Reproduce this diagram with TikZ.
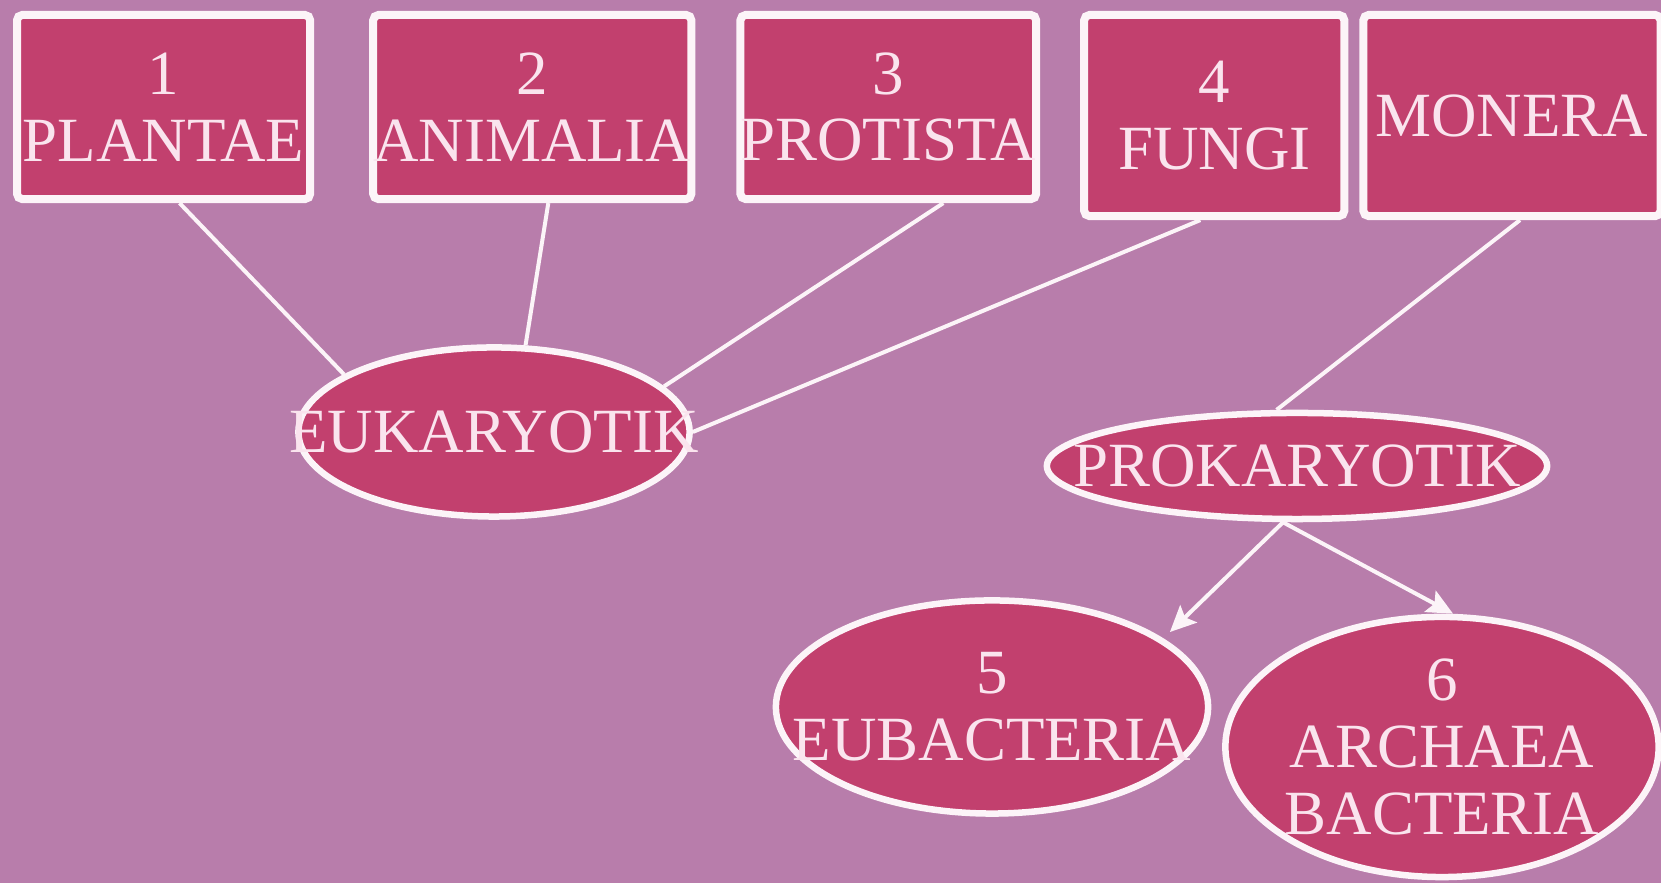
\documentclass[tikz,border=0pt]{standalone}
\usepackage{fontspec}
\setmainfont{Liberation Serif}
\usepackage{tikz}
\usetikzlibrary{arrows.meta,positioning,calc,shapes.geometric}
\definecolor{kingbg}{RGB}{184,125,171}
\definecolor{kingfill}{RGB}{194,64,110}
\definecolor{kingline}{RGB}{252,244,248}
\definecolor{kingtext}{RGB}{250,228,238}

\begin{document}
\begin{tikzpicture}[
    x=0.01cm, y=0.01cm,
    font=\fontsize{17.9pt}{19pt}\selectfont,
    >={Stealth[length=0.26cm, width=0.24cm, inset=0.05cm]},
    box/.style={draw=kingline, line width=0.08cm, rounded corners=1.5pt, fill=kingfill, text=kingtext, align=center, inner sep=0pt, minimum height=1.84cm},
    ell/.style={ellipse, draw=kingline, line width=0.065cm, fill=kingfill, text=kingtext, align=center, inner sep=0pt},
    lnk/.style={draw=kingline, line width=0.04cm},
    arr/.style={lnk, ->}
]
    \fill[kingbg] (0,0) rectangle (1661,883);
    \useasboundingbox (0,0) rectangle (1661,883);

    \node[box, minimum width=2.93cm, anchor=north west] (plant) at (13,872) {1\\PLANTAE};
    \node[box, minimum width=3.18cm, right=0.55cm of plant.north east, anchor=north west] (anim) {2\\ANIMALIA};
    \node[box, minimum width=2.91cm, right=0.41cm of anim.north east, anchor=north west] (prot) {3\\PROTISTA};
    \node[box, minimum width=2.60cm, minimum height=2.01cm, right=0.40cm of prot.north east, anchor=north west] (fung) {4\\FUNGI};
    \node[box, minimum width=2.97cm, minimum height=2.01cm, right=0.11cm of fung.north east, anchor=north west] (mon) {MONERA};

    \node[ell, minimum width=3.91cm, minimum height=1.69cm] (euk) at (494,451) {\makebox[0pt]{EUKARYOTIK}};
    \node[ell, minimum width=5.00cm, minimum height=1.06cm] (prok) at (1297,417) {\makebox[0pt]{PROKARYOTIK}};
    \node[ell, minimum width=4.32cm, minimum height=2.13cm] (eub) at (992,176) {\makebox[0pt]{5}\\\makebox[0pt]{EUBACTERIA}};
    \node[ell, minimum width=4.33cm, minimum height=2.60cm, inner ysep=-0.15cm] (arch) at (1442,136) {\makebox[0pt]{6}\\\makebox[0pt]{ARCHAEA}\\\makebox[0pt]{BACTERIA}};

    \draw[lnk] ($(plant.south)+(16,0)$) -- (euk.159);
    \draw[lnk] ($(anim.south)+(16,0)$) -- (euk.70);
    \draw[lnk] ($(prot.south)+(55,0)$) -- (euk.15);
    \draw[lnk] ($(fung.south)+(-14,0)$) -- (euk.east);
    \draw[lnk] ($(mon.south)+(8,0)$) -- (prok.110);
    \draw[arr] ($(prok.south)+(-14,0)$) -- ($(eub.24)+(14,2)$);
    \draw[arr] ($(prok.south)+(-14,0)$) -- ($(arch.north)+(11,0)$);
\end{tikzpicture}
\end{document}
